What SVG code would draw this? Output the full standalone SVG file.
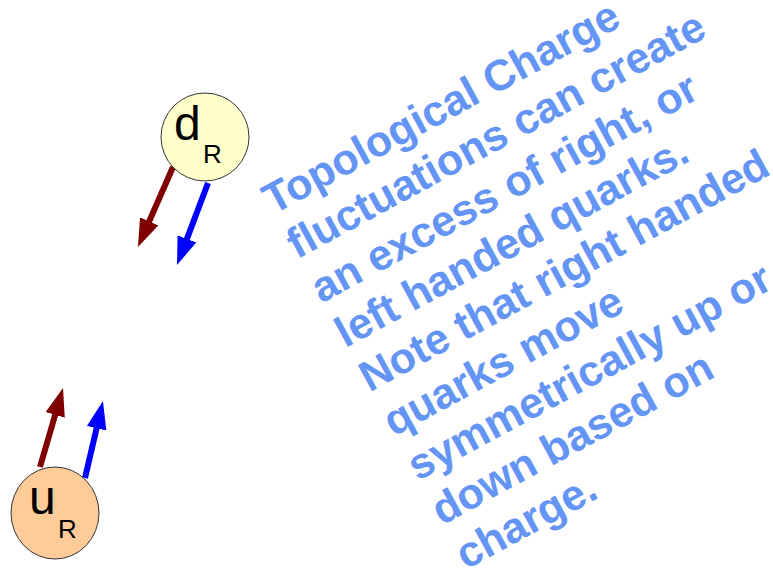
<svg xmlns="http://www.w3.org/2000/svg" width="773" height="576" viewBox="0 0 773 576">
<style>
.node{stroke:#333;stroke-width:1}
.lbl{font-family:"Liberation Sans",Arial,sans-serif;fill:#000}
.big{font-size:48px}
.sub{font-size:26px}
.note{font-family:"Liberation Sans",Arial,sans-serif;font-size:43px;font-weight:bold;fill:#6495F5}
.red{stroke:#800000;stroke-width:6;fill:none}
.blue{stroke:#0000FF;stroke-width:6;fill:none}
</style>
<defs>
<marker id="hr" markerUnits="userSpaceOnUse" markerWidth="28" markerHeight="20" viewBox="0 0 28 20" refX="4" refY="10" orient="auto"><path d="M0,0 L28,10 L0,20 z" fill="#800000"/></marker>
<marker id="hb" markerUnits="userSpaceOnUse" markerWidth="28" markerHeight="20" viewBox="0 0 28 20" refX="4" refY="10" orient="auto"><path d="M0,0 L28,10 L0,20 z" fill="#0000FF"/></marker>
</defs>
<rect width="773" height="576" fill="#fff"/>
<g id="connectors">
<line class="red" x1="173" y1="167" x2="147.6" y2="225" marker-end="url(#hr)"/>
<line class="blue" x1="208" y1="183" x2="185.5" y2="242.6" marker-end="url(#hb)"/>
<line class="red" x1="40" y1="467" x2="56.3" y2="411" marker-end="url(#hr)"/>
<line class="blue" x1="85" y1="478" x2="97.5" y2="424.4" marker-end="url(#hb)"/>
</g>
<g id="dR">
<circle class="node" cx="205" cy="137" r="44" fill="#FFFFCC"/>
<text class="lbl big" x="174" y="140">d</text>
<text class="lbl sub" x="203" y="163">R</text>
</g>
<g id="uR">
<ellipse class="node" cx="55" cy="513" rx="44" ry="46" fill="#FFCC99"/>
<text class="lbl big" x="29" y="514">u</text>
<text class="lbl sub" x="58" y="538">R</text>
</g>
<g id="note">
<text class="note" transform="translate(273,215) rotate(-28.5)">
<tspan x="0" y="0">Topological Charge</tspan>
<tspan x="0" dy="50.5">fluctuations can create</tspan>
<tspan x="0" dy="50.5">an excess of right, or</tspan>
<tspan x="0" dy="50.5">left handed quarks.</tspan>
<tspan x="0" dy="50.5">Note that right handed</tspan>
<tspan x="0" dy="50.5">quarks move</tspan>
<tspan x="0" dy="50.5">symmetrically up or</tspan>
<tspan x="0" dy="50.5">down based on</tspan>
<tspan x="0" dy="50.5">charge.</tspan>
</text>
</g>
</svg>
